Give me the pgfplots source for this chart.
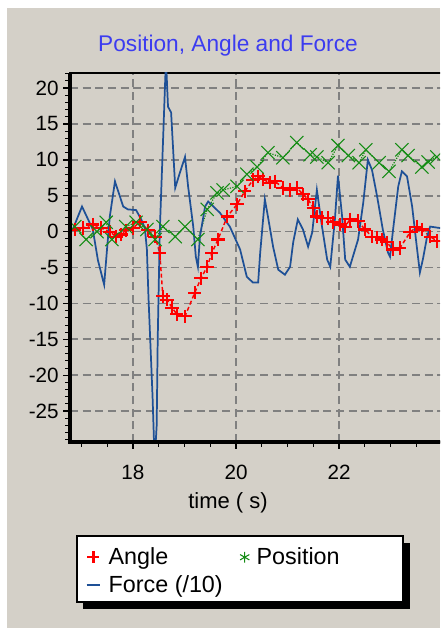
\documentclass[border=0pt]{standalone}
\usepackage{fontspec}
\setmainfont{Liberation Sans}
\usepackage{pgfplots}
\pgfplotsset{compat=1.18}

\definecolor{panel}{RGB}{212,208,200}
\definecolor{anglered}{RGB}{255,0,0}
\definecolor{posgreen}{RGB}{20,140,20}
\definecolor{forceblue}{RGB}{30,80,150}
\definecolor{titleblue}{RGB}{60,60,240}
\definecolor{gridgray}{RGB}{128,128,128}

\pgfplotsset{
  markleg/.style={legend image code/.code={\draw[##1, mark size=4.5pt] plot coordinates {(0.2cm,0cm)};}},
  starleg/.style={legend image code/.code={\draw[##1, mark=asterisk, mark size=4pt] plot coordinates {(0.2cm,0cm)};}},
  lineleg/.style={legend image code/.code={\draw[##1, line width=1.5pt] (0.02cm,0cm) -- (0.38cm,0cm);}},
}

\begin{document}
\begin{tikzpicture}
\useasboundingbox (0,0) rectangle (330pt,471pt);
\clip (0,0) rectangle (330pt,471pt);
\fill[white] (0,0) rectangle (330pt,471pt);
\fill[panel] (5.25pt,0) rectangle (330pt,465pt);
\node[text=titleblue, font=\fontsize{17}{20}\selectfont] at (171pt,436.5pt) {Position, Angle and Force};
% legend box and its shadow
\fill[black] (62.25pt,14.25pt) rectangle (307.5pt,63.75pt);
\draw[fill=white, line width=1pt] (57.75pt,19.5pt) rectangle (302.25pt,69pt);

\begin{axis}[
  name=ax,
  at={(52.5pt,139.5pt)}, anchor=south west,
  scale only axis, width=285pt, height=276.75pt,
  xmin=16.777, xmax=24.155, ymin=-29.31, ymax=22.1,
  xtick={18,20,22},
  ytick={-25,-20,...,20},
  minor xtick={17,17.5,...,24},
  minor ytick={-29,-28,...,22},
  tick pos=left, tick align=outside,
  major tick length=5pt, minor tick length=3.5pt,
  major tick style={black, line width=1pt},
  minor tick style={black, line width=0.6pt},
  grid=major,
  major grid style={gridgray, line width=1.2pt, dash pattern=on 6pt off 3.5pt},
  axis line style={black, line width=1.5pt},
  /pgf/number format/assume math mode=true,
  tick label style={font=\fontsize{15.5}{18}\selectfont},
  xticklabel shift=8.5pt,
  xlabel={time ( s)},
  xlabel style={font=\fontsize{16.5}{19}\selectfont, at={(axis description cs:0.4158,-0.165)}, anchor=center},
  legend columns=2,
  legend cell align=left,
  legend style={at={(axis description cs:0.03,-0.2715)}, anchor=north west,
    draw=none, fill=none, font=\fontsize{17.5}{20}\selectfont,
    /tikz/every odd column/.append style={column sep=3.5pt},
    /tikz/every even column/.append style={column sep=11pt},
    /tikz/row sep=3pt},
]

\addplot[color=anglered, densely dashed, line width=1.1pt, mark=+, mark size=5pt,
  mark options={solid, line width=1.6pt}, markleg]
coordinates {
(16.87,0.3) (17.03,0.5) (17.22,1) (17.38,0.5) (17.55,0) (17.67,-0.7)
(17.77,-0.4) (17.86,0.2) (18.00,0.5) (18.14,1.4) (18.29,0.2) (18.43,-0.7)
(18.52,-3) (18.58,-9) (18.66,-9.5) (18.76,-10.6) (18.85,-11.5) (19.01,-11.8)
(19.20,-8.5) (19.32,-6.5) (19.44,-4.9) (19.53,-3) (19.65,-1.1) (19.83,2.1)
(20.02,3.8) (20.17,5.6) (20.33,7.2) (20.43,7.7) (20.52,7.3) (20.66,6.8)
(20.76,7) (20.91,6.1) (21.05,5.8) (21.18,6.1) (21.30,5.2) (21.40,4.5)
(21.50,3.3) (21.57,2.1) (21.67,1.9) (21.79,1.9) (21.88,1.3) (22.02,1)
(22.12,0.7) (22.21,1.7) (22.37,1.5) (22.50,0.3) (22.64,-0.7) (22.74,-0.8)
(22.83,-1.1) (22.93,-1.5) (23.05,-2.5) (23.18,-2.3) (23.38,-0.1) (23.51,0.7)
(23.61,0.3) (23.77,-0.7) (23.90,-1.3)
};
\addlegendentry{Angle}

\addplot[color=posgreen, densely dotted, line width=0.9pt, mark=x, mark size=7pt,
  mark options={solid, line width=0.8pt}, starleg]
coordinates {
(16.87,0.7) (17.09,-1.1) (17.30,0) (17.48,1.3) (17.59,-1.1) (17.86,0.7)
(18.06,1.3) (18.27,0.3) (18.43,-1.1) (18.58,0.7) (18.82,-0.7) (19.01,0.7)
(19.26,-1.1) (19.44,3.1) (19.63,5.4) (19.75,5.8) (20.02,6.3) (20.21,8.0)
(20.41,9) (20.62,11) (20.91,10.3) (21.18,12.4) (21.44,10.7) (21.57,10.4)
(21.79,9.6) (21.98,12) (22.18,10.6) (22.39,9.6) (22.52,11.4) (22.78,9.6)
(22.97,8.4) (23.22,11.4) (23.34,10.6) (23.61,9) (23.73,9.7) (23.90,10.4)
};
\addlegendentry{Position}

\addplot[color=forceblue, line width=1.3pt, mark=none, lineleg]
coordinates {
(16.78,0) (16.83,0.3) (17.01,3.5) (17.22,0.3) (17.32,-4) (17.44,-7.4)
(17.50,-2.1) (17.55,2.1) (17.65,7.0) (17.81,3.5) (17.90,3.1) (18.06,3.0)
(18.16,1.7) (18.23,0.5) (18.27,-2.5) (18.30,-9) (18.34,-16) (18.38,-23)
(18.42,-32) (18.46,-27) (18.48,-15) (18.52,0) (18.58,12) (18.64,24)
(18.68,17.4) (18.74,16.6) (18.82,6.1) (18.91,8.2) (19.01,10.4) (19.07,6.3)
(19.17,0.7) (19.22,-3.5) (19.26,-4.9) (19.30,-0.7) (19.40,3.5) (19.46,4.2)
(19.69,2.6) (19.88,0.7) (20.08,-2.5) (20.21,-6.3) (20.33,-7.1) (20.43,-7.1)
(20.47,-2.9) (20.56,4.5) (20.62,2.1) (20.72,-2.1) (20.82,-5.3) (20.95,-6.0)
(21.05,-4.9) (21.11,-1.5) (21.20,1.7) (21.30,0.3) (21.40,-2.1) (21.48,-0.1)
(21.57,5.8) (21.67,0.7) (21.77,-3.9) (21.83,-4.9) (21.92,1.7) (21.98,7.8)
(22.06,2.1) (22.12,-3.9) (22.21,-4.9) (22.37,-1.1) (22.47,4) (22.56,10)
(22.64,8.6) (22.74,4.9) (22.85,0.3) (22.95,-2.9) (22.99,-3.5) (23.05,0.3)
(23.15,6.3) (23.22,8.4) (23.32,7.7) (23.42,3.5) (23.51,-2.1) (23.57,-5.7)
(23.63,-3.8) (23.71,-0.7) (23.77,0.7) (23.96,0.5) (24.1,1)
};
\addlegendentry{Force (/10)}
\end{axis}
\draw[black, line width=2.6pt] (ax.north west) -- (ax.south west) -- (ax.south east);
\end{tikzpicture}
\end{document}
